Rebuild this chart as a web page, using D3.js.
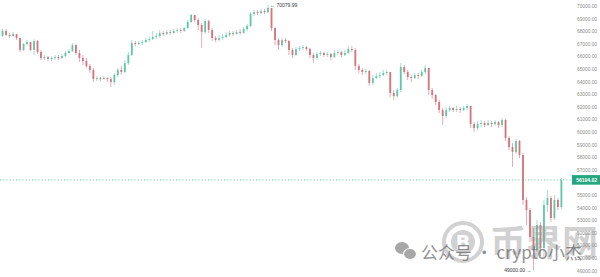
<!DOCTYPE html>
<html>
<head>
<meta charset="utf-8">
<script src="https://cdn.jsdelivr.net/npm/d3@7"></script>
<style>
  body { margin: 0; background: #fff; }
  svg { display: block; }
</style>
</head>
<body>
<div class="chart"></div>
<script>
// candle values (price, oldest first)
var firstOpen = 67620;

var closes = [
  68020, 67700, 67620, 67780, 67460, 66510, 66980, 67140, 66510, 67220,
  66350, 65870, 65950, 65790, 65870, 65950, 65870, 66030, 66270, 66430,
  66900, 66270, 65870, 65630, 65240, 64920, 64200, 64280, 64200, 64280,
  64200, 63970, 64520, 64920, 64760, 65470, 66110, 67060, 66980, 67060,
  67140, 67300, 67380, 67540, 67620, 67860, 67780, 67940, 67860, 68020,
  68090, 68020, 68250, 68730, 69290, 68890, 68490, 67940, 68810, 68090,
  67460, 67300, 67460, 67540, 67700, 67860, 67780, 67940, 67860, 68170,
  68410, 69370, 69520, 69440, 69600, 69520, 69840, 68250, 67300, 66900,
  67300, 67220, 66510, 66110, 66590, 66670, 66740, 66590, 66110, 65870,
  66190, 66270, 66110, 66190, 65950, 66270, 66350, 66110, 66270, 66590,
  66510, 65240, 64920, 64760, 64840, 63890, 64280, 64440, 64520, 64680,
  64760, 63090, 62850, 63330, 65160, 64760, 64360, 64280, 64520, 64440,
  64760, 65080, 63330, 62930, 62380, 61740, 61270, 61740, 61900, 61740,
  61820, 61740, 61900, 62060, 60630, 60310, 60630, 60710, 60550, 60710,
  60630, 60790, 60550, 60950, 59520, 58800, 58410, 59280, 58170, 54600,
  53800, 51660, 50630, 52610, 50790, 54200, 54760, 53170, 54600, 54040, 56194.02
];

var highs = [
  68170, 68170, 67860, 67940, 67780, 67460, 67060, 67300, 67140, 67380,
  67300, 66510, 66110, 66030, 66030, 66110, 66110, 66190, 66430, 66590,
  67060, 66980, 66510, 66110, 65870, 65400, 65080, 64440, 64360, 64440,
  64360, 64360, 64680, 65080, 65240, 65710, 66350, 67300, 67220, 67220,
  67300, 67460, 67540, 68020, 67860, 68090, 68020, 68090, 68090, 68170,
  68250, 68250, 68330, 68890, 69370, 69290, 69050, 68650, 68970, 68890,
  68250, 67620, 67700, 67780, 67940, 68020, 68020, 68090, 68170, 68330,
  68570, 69520, 69680, 69680, 69760, 69760, 70079.99, 69840, 68330, 67460,
  67460, 67460, 67300, 66670, 66740, 66820, 66900, 66820, 66670, 66270,
  66350, 66430, 66350, 66350, 66270, 66510, 66510, 66430, 66510, 66820,
  66820, 66670, 65400, 65080, 65000, 64920, 64520, 64680, 64760, 64920,
  64920, 64760, 63330, 63490, 65470, 65320, 64920, 64520, 64680, 64680,
  64920, 65320, 65080, 63490, 63010, 62540, 61900, 61980, 62060, 61980,
  62060, 61980, 62060, 62220, 62060, 60790, 60870, 60950, 60870, 60950,
  60870, 60950, 60870, 61110, 61030, 59680, 59120, 59440, 59360, 58330,
  54840, 53960, 52370, 53010, 52850, 54600, 55390, 54910, 54990, 54760, 56340
];

var lows = [
  67540, 67620, 67460, 67540, 67300, 66350, 66430, 66900, 66430, 66110,
  66190, 65710, 65710, 65630, 65630, 65710, 65710, 65790, 65950, 66190,
  66350, 66110, 65550, 65320, 65080, 64680, 63970, 64050, 64050, 64120,
  63970, 63570, 63730, 64360, 64520, 64680, 65320, 66030, 66820, 66900,
  66900, 67060, 67140, 67300, 67380, 67460, 67620, 67700, 67700, 67780,
  67860, 67860, 67940, 68170, 68650, 68730, 68090, 66670, 67780, 67860,
  67220, 67140, 67220, 67300, 67460, 67540, 67620, 67700, 67700, 67780,
  68020, 68330, 69210, 69290, 69370, 69370, 69440, 68020, 66900, 66510,
  66740, 67060, 66110, 65870, 66030, 66430, 66510, 66430, 65870, 65470,
  65710, 66030, 65950, 65950, 65710, 65870, 66110, 65950, 66030, 66190,
  66350, 64920, 64680, 64520, 64600, 63650, 63730, 64200, 64280, 64440,
  64520, 62780, 62540, 62700, 63170, 64600, 64120, 63970, 64200, 64200,
  64360, 64600, 62930, 62620, 62140, 61500, 60550, 61110, 61580, 61580,
  61580, 61500, 61660, 61740, 60310, 60000, 60150, 60390, 60390, 60470,
  60390, 60470, 60310, 60390, 59280, 58570, 57220, 58250, 57930, 54200,
  52610, 51260, 49000, 50470, 50150, 49990, 53640, 52850, 53010, 53800, 53880
];

var priceTicks = d3.range(49000, 70001, 1000);
var lastPrice = 56194.02;
var maxLabel = "70079.99";
var minLabel = "49000.00";
var watermarkText = "公众号 · crypto小杰";
var watermarkBrand = "币界网";

var svgWidth = 600;
var svgHeight = 277;

var upColor = "#62c7a8";
var downColor = "#d6737d";

// build candles: open = previous close
var candles = closes.map(function(c, i) {
  var o = i === 0 ? firstOpen : closes[i - 1];
  return { i: i, open: o, close: c, high: highs[i], low: lows[i] };
});

var svg = d3
  .select(".chart")
  .append("svg")
  .attr("width", svgWidth)
  .attr("height", svgHeight);

var xScale = d3.scaleBand()
  .domain(candles.map(function(d) { return d.i; }))
  .range([0, 564])
  .padding(0.48);

var yScale = d3.scaleLinear()
  .domain([49000, 70000])
  .range([270.5, 6]);

// right price axis, labels only
var rightAxis = d3.axisRight(yScale)
  .tickValues(priceTicks)
  .tickSize(0)
  .tickFormat(d3.format(".2f"));

var axisG = svg.append("g")
  .attr("transform", "translate(597,0)")
  .call(rightAxis);
axisG.select(".domain").remove();
axisG.selectAll("text")
  .attr("x", 0)
  .attr("text-anchor", "end")
  .attr("fill", "#8c8c8c")
  .style("font-family", "'Liberation Sans', Arial, sans-serif")
  .style("font-size", "4.8px");

// current price dotted line
svg.append("line")
  .attr("x1", 0)
  .attr("x2", 571)
  .attr("y1", yScale(lastPrice))
  .attr("y2", yScale(lastPrice))
  .attr("stroke", "#3fb58f")
  .attr("stroke-width", 0.8)
  .attr("stroke-dasharray", "1,2.2");

// candles
var chart = svg.append("g");
var bw = xScale.bandwidth();

chart.selectAll("line.wick")
  .data(candles)
  .enter()
  .append("line")
  .attr("class", "wick")
  .attr("x1", function(d) { return xScale(d.i) + bw / 2; })
  .attr("x2", function(d) { return xScale(d.i) + bw / 2; })
  .attr("y1", function(d) { return yScale(d.high); })
  .attr("y2", function(d) { return yScale(d.low); })
  .attr("stroke", function(d) { return d.close >= d.open ? upColor : downColor; })
  .attr("stroke-width", 0.6);

chart.selectAll("rect.body")
  .data(candles)
  .enter()
  .append("rect")
  .attr("class", "body")
  .attr("x", function(d) { return xScale(d.i); })
  .attr("width", bw)
  .attr("y", function(d) { return yScale(Math.max(d.open, d.close)); })
  .attr("height", function(d) {
    return Math.max(0.8, Math.abs(yScale(d.open) - yScale(d.close)));
  })
  .attr("fill", function(d) { return d.close >= d.open ? upColor : downColor; });

// high / low markers
var hiIdx = d3.maxIndex(candles, function(d) { return d.high; });
var loIdx = d3.minIndex(candles, function(d) { return d.low; });
var hx = xScale(hiIdx) + bw / 2;
var lx = xScale(loIdx) + bw / 2;

svg.append("text")
  .attr("x", hx + 2)
  .attr("y", yScale(candles[hiIdx].high) + 1.8)
  .attr("fill", "#333")
  .style("font-family", "'Liberation Sans', Arial, sans-serif")
  .style("font-size", "5px")
  .text("\u2190 " + maxLabel);

svg.append("text")
  .attr("x", lx - 2)
  .attr("y", yScale(candles[loIdx].low) + 1.8)
  .attr("text-anchor", "end")
  .attr("fill", "#333")
  .style("font-family", "'Liberation Sans', Arial, sans-serif")
  .style("font-size", "5px")
  .text(minLabel + " \u2192");

// last price tag
var tagY = yScale(lastPrice);
svg.append("rect")
  .attr("x", 572)
  .attr("y", tagY - 4.8)
  .attr("width", 28)
  .attr("height", 9.6)
  .attr("fill", "#26a67e");
svg.append("text")
  .attr("x", 597)
  .attr("y", tagY + 1.8)
  .attr("text-anchor", "end")
  .attr("fill", "#fff")
  .style("font-family", "'Liberation Sans', Arial, sans-serif")
  .style("font-size", "5px")
  .style("font-weight", "bold")
  .text(lastPrice.toFixed(2));

// watermark
var wm = svg.append("g").attr("opacity", 0.45);

// coin logo
wm.append("circle")
  .attr("cx", 463)
  .attr("cy", 242)
  .attr("r", 19)
  .attr("fill", "none")
  .attr("stroke", "#9a9a9a")
  .attr("stroke-width", 4);
wm.append("circle")
  .attr("cx", 463)
  .attr("cy", 242)
  .attr("r", 12)
  .attr("fill", "#9a9a9a");
wm.append("text")
  .attr("x", 463)
  .attr("y", 249)
  .attr("text-anchor", "middle")
  .attr("fill", "#fff")
  .style("font-family", "'DejaVu Sans', sans-serif")
  .style("font-weight", "bold")
  .style("font-size", "19px")
  .text("B");

wm.append("text")
  .attr("x", 490)
  .attr("y", 256)
  .attr("fill", "#9a9a9a")
  .style("font-family", "'Noto Sans CJK SC', sans-serif")
  .style("font-weight", "bold")
  .style("font-size", "36px")
  .text(watermarkBrand);

// wechat bubbles
var wc = svg.append("g").attr("opacity", 0.75);
wc.append("ellipse")
  .attr("cx", 402).attr("cy", 248).attr("rx", 7).attr("ry", 6)
  .attr("fill", "#8a8a8a");
wc.append("ellipse")
  .attr("cx", 410).attr("cy", 254).attr("rx", 6.5).attr("ry", 5.5)
  .attr("fill", "#8a8a8a").attr("stroke", "#fff").attr("stroke-width", 1.2);

wc.append("text")
  .attr("x", 421)
  .attr("y", 259)
  .attr("fill", "#6e6e6e")
  .style("font-family", "'Noto Sans CJK SC', sans-serif")
  .style("font-size", "17px")
  .text(watermarkText);
</script>
</body>
</html>
